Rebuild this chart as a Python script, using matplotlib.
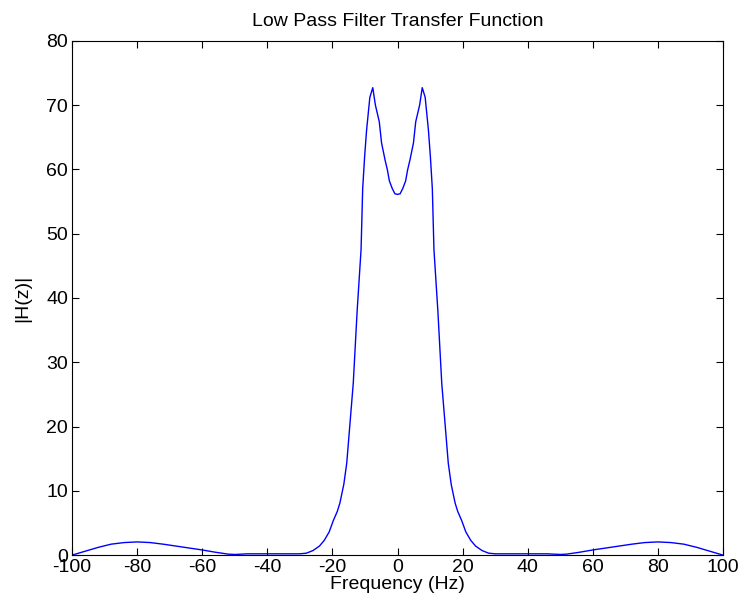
"""Low pass filter transfer function magnitude, MATLAB-style figure."""

import matplotlib

matplotlib.use("Agg")
import matplotlib.pyplot as plt

# ── Data ─────────────────────────────────────────────────────────────────────

FREQ_HZ = [
    -100, -96, -92, -88, -84, -80, -76, -72, -68, -64, -60, -56, -52, -50,
    -46, -40, -34, -30, -28, -26, -24, -22.5, -21, -19.7, -18.5, -17.7,
    -16.5, -15.6, -14.6, -13.6, -12.4, -11.2, -10.7, -10.1, -9.5, -8.5,
    -7.6, -6.8, -5.6, -4.9, -3.8, -3.1, -2.5, -1.6, -0.8, 0,
    0.8, 1.6, 2.5, 3.1, 3.8, 4.9, 5.6, 6.8, 7.6, 8.5, 9.5, 10.1, 10.7,
    11.2, 12.4, 13.6, 14.6, 15.6, 16.5, 17.7, 18.5, 19.7, 21, 22.5, 24,
    26, 28, 30, 34, 40, 46, 50, 52, 56, 60, 64, 68, 72, 76, 80, 84, 88,
    92, 96, 100,
]
MAGNITUDE = [
    0.0, 0.6, 1.2, 1.7, 1.95, 2.05, 1.95, 1.7, 1.4, 1.1, 0.8, 0.45, 0.15, 0.1,
    0.2, 0.2, 0.2, 0.2, 0.3, 0.7, 1.4, 2.3, 3.6, 5.4, 6.8, 8.1,
    11.0, 14.3, 20.5, 26.7, 38.0, 47.5, 57.0, 62.0, 66.1, 71.2,
    72.7, 70.0, 67.4, 64.1, 61.4, 59.9, 58.2, 57.0, 56.2, 56.1,
    56.2, 57.0, 58.2, 59.9, 61.4, 64.1, 67.4, 70.0, 72.7, 71.2, 66.1, 62.0, 57.0,
    47.5, 38.0, 26.7, 20.5, 14.3, 11.0, 8.1, 6.8, 5.4, 3.6, 2.3, 1.4,
    0.7, 0.3, 0.2, 0.2, 0.2, 0.2, 0.1, 0.15, 0.45, 0.8, 1.1, 1.4, 1.7, 1.95, 2.05, 1.95, 1.7,
    1.2, 0.6, 0.0,
]

X_TICKS = [-100, -80, -60, -40, -20, 0, 20, 40, 60, 80, 100]
Y_TICKS = [0, 10, 20, 30, 40, 50, 60, 70, 80]

plt.rcParams["font.family"] = ["Liberation Sans", "DejaVu Sans"]
plt.rcParams["font.size"] = 14
plt.rcParams["axes.unicode_minus"] = False

# ── Figure ───────────────────────────────────────────────────────────────────

fig = plt.figure(figsize=(7.43, 6.08), dpi=100)
ax = fig.add_axes([0.097, 0.087, 0.876, 0.846])

ax.plot(FREQ_HZ, MAGNITUDE, color="#0000ff", linewidth=1.0)

ax.set_xlim(-100, 100)
ax.set_ylim(0, 80)
ax.set_xticks(X_TICKS)
ax.set_yticks(Y_TICKS)
ax.tick_params(direction="in", length=5, width=0.8, top=True, right=True, pad=3)
for side in ax.spines.values():
    side.set_linewidth(0.8)

ax.set_title("Low Pass Filter Transfer Function", fontsize=14, pad=10.5)
ax.set_xlabel("Frequency (Hz)", labelpad=0)
ax.set_ylabel("|H(z)|", labelpad=11)

fig.savefig("out.png", dpi=100)
plt.close(fig)
